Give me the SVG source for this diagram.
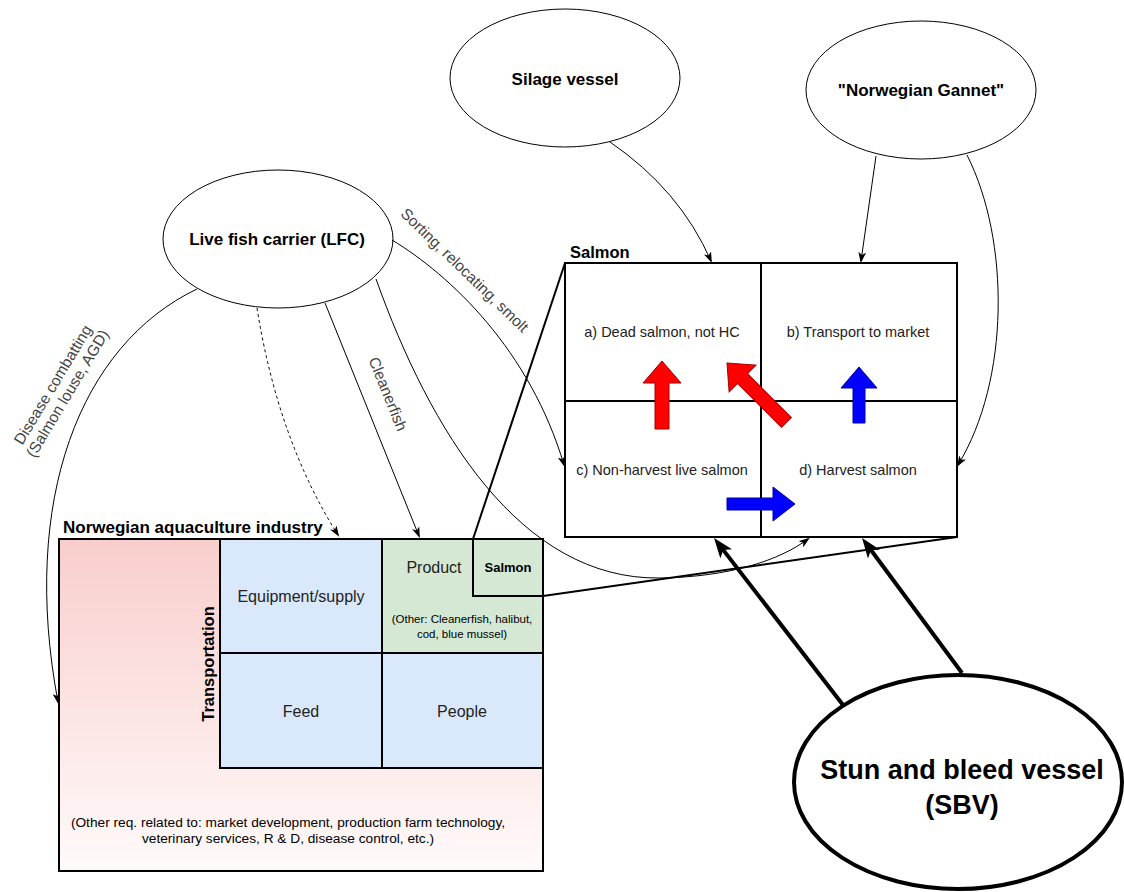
<svg xmlns="http://www.w3.org/2000/svg" width="1124" height="892" viewBox="0 0 1124 892">
<defs>
<linearGradient id="pink" x1="0" y1="0" x2="0" y2="1">
<stop offset="0" stop-color="#f8cecc"/>
<stop offset="1" stop-color="#fffafa"/>
</linearGradient>
<marker id="arr" viewBox="0 0 10 7" refX="8" refY="3.5" markerWidth="11" markerHeight="8" orient="auto" markerUnits="userSpaceOnUse">
<path d="M0,0 L10,3.5 L0,7 L2.5,3.5 z" fill="#000"/>
</marker>
<marker id="arrBig" viewBox="0 0 20 15" refX="6" refY="7.5" markerWidth="20" markerHeight="15" orient="auto" markerUnits="userSpaceOnUse">
<path d="M0,0 L20,7.5 L0,15 L5,7.5 z" fill="#000"/>
</marker>
</defs>
<style>
text{font-family:"Liberation Sans",Arial,Helvetica,sans-serif;fill:#000}
.el{fill:#fff;stroke:#000;stroke-width:1}
.eltxt{font-size:17px;font-weight:bold;text-anchor:middle}
.cell{fill:#fff;stroke:#000;stroke-width:2}
.blue{fill:#dae8fc;stroke:#000;stroke-width:2}
.green{fill:#d5e8d4;stroke:#000;stroke-width:2}
.c{fill:none;stroke:#000;stroke-width:1}
.thick{fill:none;stroke:#000;stroke-width:4}
.zoom{fill:none;stroke:#000;stroke-width:2}
.lbl{font-size:15.5px;fill:#444;text-anchor:middle}
.mid{text-anchor:middle}
.ct{font-size:14.5px;text-anchor:middle;fill:#222}
.bt{font-size:16px;text-anchor:middle;fill:#222}
.red{fill:#ff0000;stroke:#a00000;stroke-width:1}
.blu{fill:#0000ff;stroke:#0000a0;stroke-width:1}
</style>

<g id="industry">
<rect x="59" y="539" width="484" height="332" fill="url(#pink)" stroke="#000" stroke-width="2"/>
<text x="63" y="533" font-size="17" font-weight="bold">Norwegian aquaculture industry</text>
<text class="mid" x="288" y="827" font-size="13.7">(Other req. related to: market development, production farm technology,</text>
<text class="mid" x="288" y="843" font-size="13.7">veterinary services, R &amp; D,  disease control, etc.)</text>
<text transform="translate(214,664) rotate(-90)" class="mid" font-size="16.5" font-weight="bold">Transportation</text>
</g>
<g id="equipment">
<rect class="blue" x="220" y="539" width="162" height="114"/>
<text class="bt" x="301" y="602">Equipment/supply</text>
</g>
<g id="feed">
<rect class="blue" x="220" y="653" width="162" height="115"/>
<text class="bt" x="301" y="717">Feed</text>
</g>
<g id="people">
<rect class="blue" x="382" y="653" width="161" height="115"/>
<text class="bt" x="462" y="717">People</text>
</g>
<g id="product">
<rect class="green" x="382" y="539" width="161" height="114"/>
<text class="bt" x="434" y="573">Product</text>
<text class="mid" x="462" y="623" font-size="11.5" fill="#222">(Other: Cleanerfish, halibut,</text>
<text class="mid" x="462" y="638" font-size="11.5" fill="#222">cod, blue mussel)</text>
</g>
<g id="product-salmon">
<rect class="green" x="473" y="539" width="70" height="57"/>
<text class="mid" x="508" y="572" font-size="13" font-weight="bold" fill="#222">Salmon</text>
</g>

<g id="salmon-matrix">
<text x="570" y="258" font-size="16.5" font-weight="bold">Salmon</text>
<rect class="cell" x="565" y="263" width="392" height="274"/>
<line x1="761" y1="263" x2="761" y2="537" stroke="#000" stroke-width="2"/>
<line x1="565" y1="401" x2="957" y2="401" stroke="#000" stroke-width="2"/>
<text class="ct" x="662" y="337">a) Dead salmon, not HC</text>
<text class="ct" x="858" y="337">b) Transport to market</text>
<text class="ct" x="662" y="475">c) Non-harvest live salmon</text>
<text class="ct" x="858" y="475">d) Harvest salmon</text>
</g>

<g id="flow-arrows">
<polygon class="red" transform="translate(662,361)" points="0,0 19,22 7,22 7,68 -7,68 -7,22 -19,22"/>
<polygon class="red" transform="translate(727,363) rotate(-45)" points="0,0 19,22 7,22 7,84 -7,84 -7,22 -19,22"/>
<polygon class="blu" transform="translate(859,367)" points="0,0 18,21 6,21 6,56 -6,56 -6,21 -18,21"/>
<polygon class="blu" transform="translate(795,504) rotate(90)" points="0,0 17,22 6,22 6,68 -6,68 -6,22 -17,22"/>
</g>

<g id="silage-vessel">
<ellipse class="el" cx="565" cy="78" rx="115" ry="69"/>
<text class="eltxt" x="565" y="85">Silage vessel</text>
</g>
<g id="norwegian-gannet">
<ellipse class="el" cx="921" cy="90" rx="115" ry="69"/>
<text class="eltxt" x="921" y="96">"Norwegian Gannet"</text>
</g>
<g id="lfc">
<ellipse class="el" cx="278" cy="239" rx="115" ry="69"/>
<text class="eltxt" x="277" y="245">Live fish carrier (LFC)</text>
</g>
<g id="sbv">
<ellipse cx="958" cy="782" rx="164" ry="107" fill="#fff" stroke="#000" stroke-width="4"/>
<text class="mid" x="962" y="779" font-size="27" font-weight="bold">Stun and bleed vessel</text>
<text class="mid" x="962" y="814" font-size="27" font-weight="bold">(SBV)</text>
</g>

<g id="connectors">
<line class="zoom" x1="473" y1="539" x2="565" y2="263"/>
<line class="zoom" x1="543" y1="596" x2="957" y2="537"/>
<path class="c" d="M610 142 Q680 190 711 261" marker-end="url(#arr)"/>
<path class="c" d="M876 156 L861 261" marker-end="url(#arr)"/>
<path class="c" d="M967 155 C1010 240 1010 380 958 465" marker-end="url(#arr)"/>
<path class="c" d="M392 240 C450 275 530 350 564 465" marker-end="url(#arr)"/>
<path class="c" d="M325 303 L419 536" marker-end="url(#arr)"/>
<path class="c" d="M257 308 Q278 440 338 535" stroke-dasharray="3 3" marker-end="url(#arr)"/>
<path class="c" d="M197 289 C80 345 20 500 58 702" marker-end="url(#arr)"/>
<path class="c" d="M376 279 C430 430 520 580 660 578 C730 577 780 560 808 539" marker-end="url(#arr)"/>
<line class="thick" x1="843" y1="705" x2="722.6" y2="549.1" marker-end="url(#arrBig)"/>
<line class="thick" x1="962" y1="673" x2="870.4" y2="549.3" marker-end="url(#arrBig)"/>
<text class="lbl" transform="translate(461,274) rotate(44)">Sorting, relocating, smolt</text>
<text class="lbl" transform="translate(383,396) rotate(68)">Cleanerfish</text>
<g transform="translate(60,389) rotate(-59)">
<text class="lbl" x="0" y="-3">Disease combatting</text>
<text class="lbl" x="0" y="14">(Salmon louse, AGD)</text>
</g>
</g>
</svg>
